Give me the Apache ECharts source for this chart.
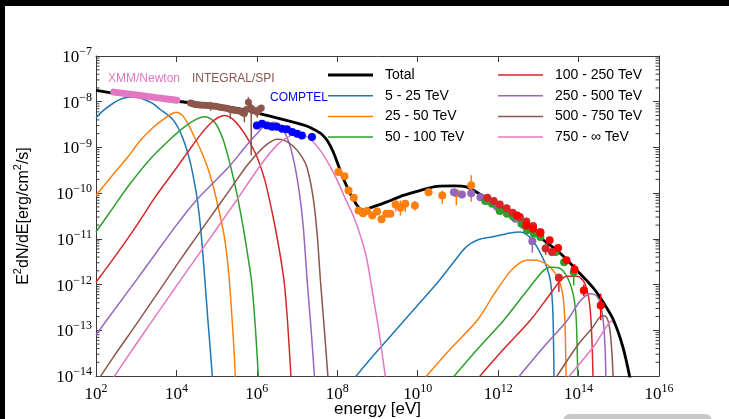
<!DOCTYPE html>
<html><head><meta charset="utf-8">
<script src="https://cdn.jsdelivr.net/npm/echarts@6/dist/echarts.min.js"></script>
<style>html,body{margin:0;padding:0;background:#fff}#c{width:729px;height:419px}</style>
</head><body><div id="c"></div>
<script>
// All values as [log10(E / eV), log10(E^2 dN/dE / (erg cm^-2 s^-1))]
const xTickExps = [2, 4, 6, 8, 10, 12, 14, 16];
const yTickExps = [-14, -13, -12, -11, -10, -9, -8, -7];
const legendLeft = ['Total', '5 - 25 TeV', '25 - 50 TeV', '50 - 100 TeV'];
const legendRight = ['100 - 250 TeV', '250 - 500 TeV', '500 - 750 TeV', '750 - ∞ TeV'];
const labels = ['XMM/Newton', 'INTEGRAL/SPI', 'COMPTEL'];

const total = [[2.0,-7.75],[2.5,-7.82],[3.0,-7.88],[3.5,-7.93],[4.0,-7.99],[4.6,-8.04],[5.2,-8.10],[5.76,-8.19],[6.25,-8.30],[6.83,-8.43],[7.2,-8.52],[7.41,-8.60],[7.6,-8.70],[7.75,-8.85],[7.9,-9.10],[8.05,-9.45],[8.2,-9.78],[8.4,-10.14],[8.55,-10.33],[8.65,-10.37],[8.82,-10.32],[9.24,-10.19],[9.64,-10.05],[10.07,-9.94],[10.48,-9.85],[10.9,-9.84],[11.23,-9.87],[11.56,-10.03],[11.89,-10.19],[12.22,-10.41],[12.55,-10.63],[12.72,-10.74],[13.13,-11.03],[13.55,-11.32],[13.96,-11.69],[14.37,-12.08],[14.63,-12.41],[14.87,-12.78],[15.1,-13.36],[15.28,-14.05]];

const sync5_25 = [[2.0,-8.35],[2.2,-8.18],[2.4,-8.05],[2.6,-7.95],[2.8,-7.90],[3.0,-7.90],[3.2,-7.95],[3.4,-8.03],[3.6,-8.17],[3.8,-8.30],[3.93,-8.41],[4.05,-8.58],[4.15,-8.78],[4.25,-9.03],[4.35,-9.35],[4.45,-9.78],[4.52,-10.15],[4.6,-10.75],[4.69,-11.7],[4.78,-12.75],[4.84,-13.4],[4.9,-14.1]];
const sync25_50 = [[2.0,-10.05],[2.4,-9.62],[2.8,-9.2],[3.1,-8.85],[3.4,-8.58],[3.7,-8.37],[3.85,-8.28],[4.0,-8.23],[4.15,-8.3],[4.3,-8.5],[4.43,-8.74],[4.6,-9.05],[4.76,-9.4],[4.9,-9.8],[5.05,-10.35],[5.2,-11.0],[5.3,-11.75],[5.38,-12.7],[5.43,-13.4],[5.47,-14.1]];
const sync50_100 = [[2.0,-10.85],[2.4,-10.35],[2.8,-9.85],[3.3,-9.3],[3.81,-8.85],[4.2,-8.55],[4.5,-8.38],[4.72,-8.33],[4.95,-8.45],[5.15,-8.8],[5.34,-9.39],[5.5,-10.0],[5.65,-10.7],[5.78,-11.4],[5.87,-11.95],[5.96,-12.9],[6.04,-14.05]];
const sync100_250 = [[2.0,-11.95],[2.5,-11.35],[3.0,-10.72],[3.5,-10.05],[4.0,-9.45],[4.3,-9.08],[4.6,-8.72],[4.85,-8.47],[5.05,-8.34],[5.2,-8.30],[5.4,-8.38],[5.6,-8.58],[5.8,-8.85],[6.0,-9.2],[6.2,-9.72],[6.4,-10.5],[6.55,-11.2],[6.68,-11.95],[6.77,-12.9],[6.85,-14.05]];
const sync250_500 = [[2.0,-13.1],[2.5,-12.5],[2.98,-11.93],[3.5,-11.3],[4.0,-10.7],[4.5,-10.15],[5.0,-9.7],[5.34,-9.39],[5.7,-9.0],[6.0,-8.7],[6.2,-8.52],[6.42,-8.45],[6.6,-8.55],[6.78,-8.85],[6.92,-9.3],[7.05,-9.95],[7.15,-10.7],[7.25,-11.9],[7.35,-13.0],[7.44,-14.1]];
const sync500_750 = [[2.05,-14.09],[2.5,-13.5],[3.0,-12.87],[3.73,-11.93],[4.3,-11.2],[4.8,-10.58],[5.3,-9.96],[5.76,-9.39],[6.1,-9.05],[6.3,-8.9],[6.5,-8.82],[6.7,-8.85],[6.9,-8.97],[7.1,-9.18],[7.25,-9.45],[7.4,-10.1],[7.5,-10.9],[7.58,-11.9],[7.68,-13.0],[7.77,-14.05]];
const sync750_inf = [[2.4,-14.08],[3.0,-13.3],[4.08,-11.93],[5.0,-10.78],[5.5,-10.15],[6.09,-9.39],[6.5,-8.95],[6.83,-8.74],[7.05,-8.70],[7.3,-8.8],[7.58,-9.07],[7.8,-9.38],[8.0,-9.72],[8.2,-10.12],[8.41,-10.52],[8.6,-11.0],[8.74,-11.47],[8.9,-12.3],[9.05,-13.1],[9.2,-14.05]];

const ic5_25 = [[8.45,-14.02],[9.0,-13.45],[9.5,-12.95],[10.0,-12.45],[10.5,-11.95],[10.9,-11.5],[11.2,-11.18],[11.5,-11.02],[11.9,-10.95],[12.3,-10.87],[12.55,-10.85],[12.7,-10.9],[12.85,-11.02],[12.97,-11.18],[13.1,-11.4],[13.22,-11.65],[13.3,-11.92],[13.35,-12.4],[13.37,-12.9],[13.39,-14.05]];
const ic25_50 = [[10.2,-14.02],[10.8,-13.42],[11.48,-12.78],[11.89,-12.22],[12.31,-11.7],[12.55,-11.52],[12.72,-11.46],[12.97,-11.47],[13.15,-11.53],[13.3,-11.62],[13.45,-11.8],[13.55,-12.0],[13.62,-12.3],[13.66,-12.8],[13.68,-13.5],[13.69,-14.05]];
const ic50_100 = [[10.89,-14.02],[11.5,-13.4],[12.14,-12.78],[12.72,-12.13],[13.13,-11.69],[13.3,-11.62],[13.55,-11.65],[13.72,-11.84],[13.85,-12.15],[13.93,-12.6],[13.96,-13.2],[13.98,-14.05]];
const ic100_250 = [[11.53,-14.02],[12.15,-13.4],[12.8,-12.78],[13.3,-12.2],[13.55,-11.91],[13.72,-11.82],[13.96,-11.82],[14.1,-11.9],[14.2,-12.08],[14.27,-12.4],[14.31,-12.8],[14.34,-13.4],[14.36,-14.05]];
const ic250_500 = [[12.51,-14.02],[13.1,-13.4],[13.72,-12.78],[14.05,-12.35],[14.3,-12.2],[14.45,-12.25],[14.55,-12.45],[14.62,-12.85],[14.66,-13.4],[14.68,-14.05]];
const ic500_750 = [[13.45,-14.02],[14.0,-13.3],[14.34,-12.95],[14.59,-12.68],[14.7,-12.72],[14.78,-13.0],[14.83,-13.5],[14.86,-14.05]];
const ic750_inf = [[13.75,-14.02],[14.38,-13.35],[14.6,-13.05],[14.82,-12.8],[14.92,-12.88],[15.02,-13.1],[15.12,-13.4],[15.2,-13.7],[15.28,-14.05]];

const xmmBand = [[2.44,-7.79],[3.0,-7.85],[3.5,-7.91],[4.01,-7.97]];
const integralPts = [[4.35,-8.03],[4.41,-8.045],[4.47,-8.06],[4.53,-8.065],[4.59,-8.07],[4.65,-8.075],[4.72,-8.08],[4.78,-8.085],[4.84,-8.09],[4.9,-8.095],[4.97,-8.10],[5.03,-8.11],[5.09,-8.12],[5.15,-8.13],[5.22,-8.14],[5.28,-8.15],[5.34,-8.17],[5.4,-8.18],[5.47,-8.19],[5.53,-8.2],[5.59,-8.21],[5.65,-8.24],[5.69,-8.26],[5.74,-8.17],[5.79,-8.01],[5.86,-8.14],[5.9,-8.2],[5.94,-8.19],[6.01,-8.23],[6.06,-8.17],[6.11,-8.14]];
const integralErr = [[4.85,-8.2,-8.0],[5.34,-8.38,-8.12],[5.69,-8.45,-8.15],[5.79,-8.1,-7.9],[5.86,-9.17,-8.05],[6.01,-8.35,-8.15]];
const comptelPts = [[6.0,-8.52],[6.13,-8.48],[6.25,-8.52],[6.38,-8.55],[6.5,-8.55],[6.63,-8.59],[6.75,-8.6],[6.88,-8.66],[7.0,-8.7],[7.12,-8.74],[7.37,-8.77]];
const fermiPts = [[8.03,-9.54],[8.18,-9.63],[8.28,-9.94],[8.41,-10.10],[8.53,-10.38],[8.64,-10.44],[8.74,-10.39],[8.87,-10.49],[8.99,-10.40],[9.10,-10.57],[9.22,-10.45],[9.32,-10.45],[9.45,-10.25],[9.57,-10.32],[9.69,-10.23],[9.93,-10.27],[10.27,-9.98],[10.61,-10.05],[10.96,-10.0],[11.33,-9.83]];
const fermiErr = [[8.03,-9.62,-9.46],[8.18,-9.7,-9.56],[8.28,-10.02,-9.86],[8.41,-10.18,-10.02],[8.53,-10.46,-10.3],[8.64,-10.52,-10.36],[8.74,-10.46,-10.32],[8.87,-10.56,-10.42],[8.99,-10.47,-10.33],[9.10,-10.65,-10.49],[9.22,-10.53,-10.37],[9.32,-10.53,-10.37],[9.45,-10.4,-10.15],[9.57,-10.49,-10.16],[9.69,-10.41,-10.16],[9.93,-10.38,-10.17],[10.27,-10.06,-9.9],[10.61,-10.23,-9.94],[10.96,-10.27,-10.01],[11.33,-10.19,-9.61]];
const purplePts = [[10.9,-9.98],[11.1,-10.03],[11.33,-10.0],[11.56,-10.09],[11.77,-10.17],[11.97,-10.3],[12.21,-10.43],[12.43,-10.56],[12.64,-10.7],[12.85,-11.05]];
const purpleErr = [[12.85,-11.3,-11.0]];
const darkRedPts = [[11.73,-10.10],[11.89,-10.17],[12.04,-10.25],[12.21,-10.33],[12.36,-10.43],[12.54,-10.52],[12.70,-10.62],[12.87,-10.72],[13.05,-10.85],[13.18,-11.21],[13.34,-11.29],[13.51,-11.85]];
const darkRedErr = [[13.18,-11.35,-11.1],[13.51,-12.16,-11.76]];
const greenPts = [[11.68,-10.17],[11.85,-10.23],[12.04,-10.39],[12.22,-10.45],[12.37,-10.51],[12.58,-10.67],[12.72,-10.81],[12.89,-10.89],[13.05,-10.96],[13.43,-11.29],[13.64,-11.51],[13.88,-11.73]];
const greenErr = [[13.88,-12.02,-11.7]];
const redPts = [[12.47,-10.49],[12.70,-10.71],[12.87,-10.78],[13.05,-10.87],[13.28,-11.03],[13.49,-11.2],[13.70,-11.47],[13.90,-11.67],[14.13,-12.13],[14.55,-12.46]];
const redErr = [[13.90,-11.8,-11.55],[14.13,-12.25,-12.0],[14.55,-12.78,-12.2]];

const C = {blue:'#1f77b4', orange:'#ff7f0e', green:'#2ca02c', red:'#d62728', purple:'#9467bd', brown:'#8c564b', pink:'#e377c2'};
const axisColor = '#3a3a3a';
const serif = '"Liberation Serif", "DejaVu Serif", serif';
const sans = '"Liberation Sans", Arial, sans-serif';

function curve(name, data, color, width, z) {
  return {type:'line', name, data, color, symbol:'none', showSymbol:false, smooth:0.3,
    lineStyle:{width:width||1.5, color}, itemStyle:{color}, z:z||2, silent:true, clip:true};
}
function points(data, color, size, z) {
  return {type:'scatter', data, symbol:'circle', symbolSize:size||8, itemStyle:{color, opacity:1}, z:z||5, silent:true};
}
function errbars(data, color, z) {
  return {type:'custom', data, encode:{x:0, y:[1,2]}, z:z||4, silent:true,
    renderItem:(p, api) => {
      const a = api.coord([api.value(0), api.value(1)]);
      const b = api.coord([api.value(0), api.value(2)]);
      return {type:'line', shape:{x1:a[0], y1:a[1], x2:b[0], y2:b[1]}, style:{stroke:color, lineWidth:1.5}};
    }};
}
const minorTicks = [];
for (let n = yTickExps[0]; n < yTickExps[yTickExps.length-1]; n++) {
  for (let k = 2; k <= 9; k++) minorTicks.push([xTickExps[0], n + Math.log10(k)]);
}
const xMin = xTickExps[0], xMax = xTickExps[xTickExps.length-1];
const yMin = yTickExps[0], yMax = yTickExps[yTickExps.length-1];

const richLabel = {
  b:{fontFamily:serif, fontSize:17, lineHeight:20, color:'#000', verticalAlign:'bottom'},
  s:{fontFamily:serif, fontSize:12, lineHeight:12, color:'#000', verticalAlign:'top'}
};
const thin = 'path://M0,0L45,0L45,1.5L0,1.5Z';
const thick = 'path://M0,0L45,0L45,3L0,3Z';
const legendItems = names => names.map(n => ({name:n, icon: n === 'Total' ? thick : thin}));

const chart = echarts.init(document.getElementById('c'), null, {renderer:'canvas'});
chart.setOption({
  animation:false,
  backgroundColor:'#fff',
  grid:{left:96, top:56, width:563, height:320, containLabel:false, outerBoundsMode:'none'},
  xAxis:[
    {type:'value', min:xMin, max:xMax, interval:2, position:'bottom',
     axisLine:{onZero:false, lineStyle:{color:axisColor, width:1}},
     axisTick:{inside:true, length:6, lineStyle:{color:axisColor}},
     axisLabel:{margin:7, showMinLabel:true, showMaxLabel:true, formatter:v => '{b|10}{s|' + v + '}', rich:richLabel},
     splitLine:{show:false},
     name:'energy [eV]', nameLocation:'middle', nameGap:24, nameMoveOverlap:false,
     nameTextStyle:{fontFamily:sans, fontSize:17, color:'#000', verticalAlign:'top', lineHeight:18}},
    {type:'value', min:xMin, max:xMax, interval:2, position:'top',
     axisLine:{onZero:false, lineStyle:{color:axisColor, width:1}},
     axisTick:{inside:true, length:6, lineStyle:{color:axisColor}},
     axisLabel:{show:false}, splitLine:{show:false}}
  ],
  yAxis:[
    {type:'value', min:yMin, max:yMax, interval:1, position:'left',
     axisLine:{onZero:false, lineStyle:{color:axisColor, width:1}},
     axisTick:{inside:true, length:6, lineStyle:{color:axisColor}},
     axisLabel:{margin:4, showMinLabel:true, showMaxLabel:true, formatter:v => '{b|10}{s|−' + Math.abs(v) + '}', rich:richLabel},
     splitLine:{show:false},
     name:'{b|E}{s|2}{b|dN/dE[erg/cm}{s|2}{b|/s]}', nameLocation:'middle', nameGap:64, nameRotate:90, nameMoveOverlap:false,
     nameTextStyle:{fontFamily:sans, fontSize:16, color:'#000',
       rich:{b:{fontFamily:sans, fontSize:16, lineHeight:20, color:'#000', verticalAlign:'bottom'},
             s:{fontFamily:sans, fontSize:11, lineHeight:12, color:'#000', verticalAlign:'top'}}}},
    {type:'value', min:yMin, max:yMax, interval:1, position:'right',
     axisLine:{onZero:false, lineStyle:{color:axisColor, width:1}},
     axisTick:{inside:true, length:6, lineStyle:{color:axisColor}},
     axisLabel:{show:false}, splitLine:{show:false}}
  ],
  legend:[
    {data:legendItems(legendLeft), left:328, top:68, orient:'vertical', itemWidth:45, itemHeight:14, itemGap:6.7, padding:0,
     selectedMode:false, textStyle:{fontFamily:sans, fontSize:14, color:'#000', lineHeight:14, padding:[0,0,0,7]}},
    {data:legendItems(legendRight), left:498, top:68, orient:'vertical', itemWidth:45, itemHeight:14, itemGap:6.7, padding:0,
     selectedMode:false, textStyle:{fontFamily:sans, fontSize:14, color:'#000', lineHeight:14, padding:[0,0,0,7]}}
  ],
  graphic:[
    {type:'rect', shape:{x:0, y:0, width:729, height:6}, style:{fill:'#000'}, z:100},
    {type:'rect', shape:{x:0, y:0, width:5, height:419}, style:{fill:'#000'}, z:100},
    {type:'rect', shape:{x:563, y:414, width:149, height:14, r:7}, style:{fill:'#c8c8c8'}, z:100},
    {type:'text', x:108, y:73, style:{text:labels[0], fill:C.pink, font:'12px ' + sans}, z:50},
    {type:'text', x:192, y:73, style:{text:labels[1], fill:C.brown, font:'12px ' + sans}, z:50},
    {type:'text', x:270, y:92, style:{text:labels[2], fill:'#0000ff', font:'12px ' + sans}, z:50}
  ],
  series:[
    {type:'custom', data:minorTicks, silent:true, z:1,
     renderItem:(p, api) => {
       const v = api.value(1);
       const l = api.coord([xMin, v]), r = api.coord([xMax, v]);
       return {type:'group', children:[
         {type:'line', shape:{x1:l[0], y1:l[1], x2:l[0]+3.5, y2:l[1]}, style:{stroke:axisColor, lineWidth:1}},
         {type:'line', shape:{x1:r[0], y1:r[1], x2:r[0]-3.5, y2:r[1]}, style:{stroke:axisColor, lineWidth:1}}]};
     }},
    curve('5 - 25 TeV', sync5_25, C.blue),
    curve('5 - 25 TeV', ic5_25, C.blue),
    curve('25 - 50 TeV', sync25_50, C.orange),
    curve('25 - 50 TeV', ic25_50, C.orange),
    curve('50 - 100 TeV', sync50_100, C.green),
    curve('50 - 100 TeV', ic50_100, C.green),
    curve('100 - 250 TeV', sync100_250, C.red),
    curve('100 - 250 TeV', ic100_250, C.red),
    curve('250 - 500 TeV', sync250_500, C.purple),
    curve('250 - 500 TeV', ic250_500, C.purple),
    curve('500 - 750 TeV', sync500_750, C.brown),
    curve('500 - 750 TeV', ic500_750, C.brown),
    curve('750 - ∞ TeV', sync750_inf, C.pink),
    curve('750 - ∞ TeV', ic750_inf, C.pink),
    curve('Total', total, '#000', 2.8, 3),
    {type:'line', data:xmmBand, symbol:'none', showSymbol:false, lineStyle:{width:7, color:C.pink, cap:'round'}, z:4, silent:true},
    errbars(integralErr, C.brown),
    points(integralPts, C.brown, 7),
    points(comptelPts, '#0000ff', 8),
    errbars(fermiErr, C.orange),
    points(fermiPts, C.orange, 8),
    errbars(purpleErr, C.purple),
    points(purplePts, C.purple, 8),
    errbars(greenErr, C.green),
    points(greenPts, C.green, 8),
    errbars(darkRedErr, C.red),
    points(darkRedPts, C.red, 8),
    errbars(redErr, '#ff0000'),
    points(redPts, '#ff0000', 8)
  ]
});
</script>
</body></html>
